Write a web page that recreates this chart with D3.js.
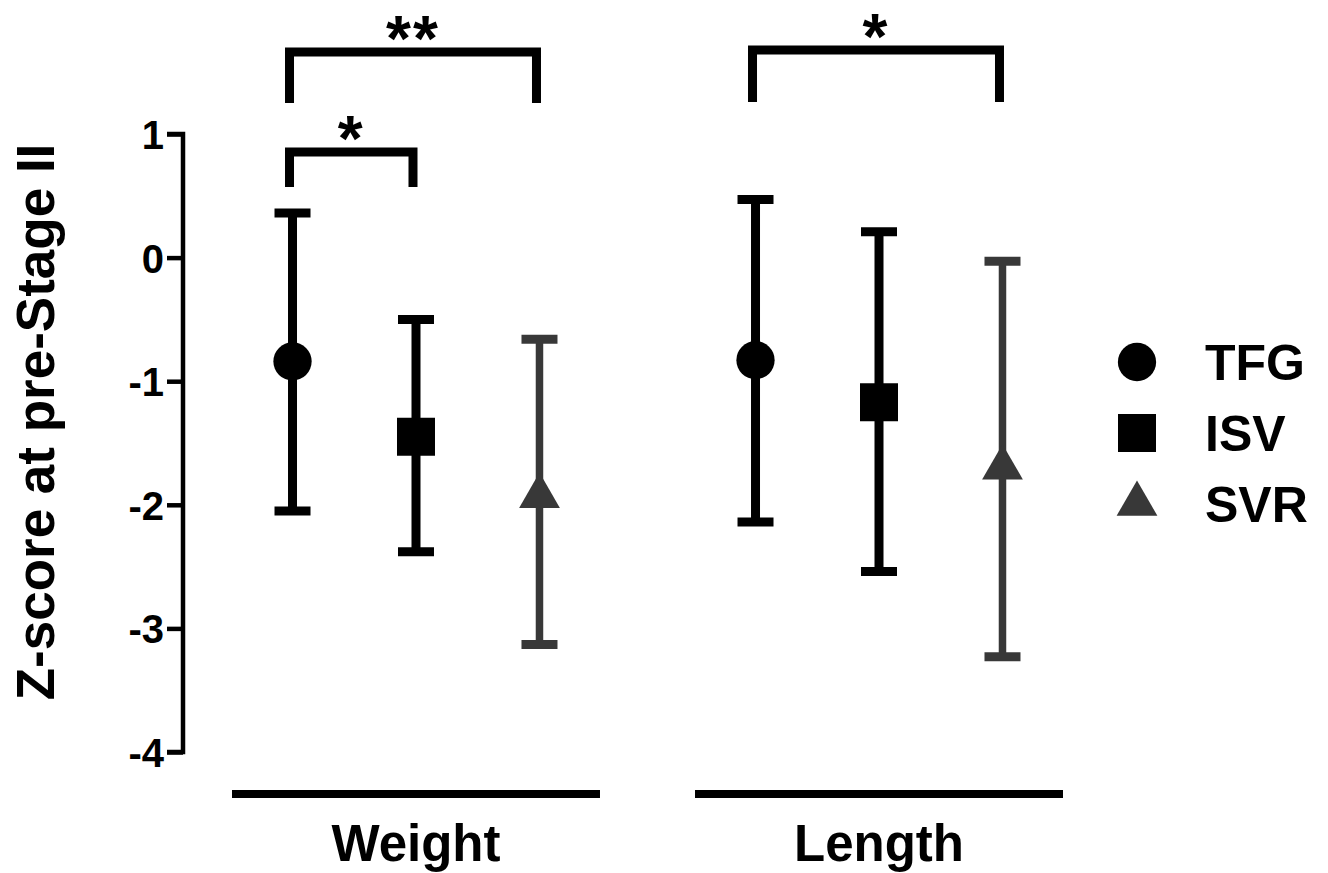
<!DOCTYPE html>
<html>
<head>
<meta charset="utf-8">
<script src="https://cdn.jsdelivr.net/npm/d3@7"></script>
<style>
  body { margin: 0; background: #fff; }
  svg text { font-family: "Liberation Sans", Arial, sans-serif; font-weight: bold; fill: #000; }
</style>
</head>
<body>
<svg id="chart" width="1328" height="873"></svg>
<script>
"use strict"
// measures and groups
var measures = ["Weight", "Length"];
var groups = ["TFG", "ISV", "SVR"];

// mean z-score, upper and lower error bar ends
var means = { Weight: [-0.84, -1.45, -1.93], Length: [-0.83, -1.17, -1.70] };
var uppers = { Weight: [0.36, -0.50, -0.66], Length: [0.47, 0.21, -0.03] };
var lowers = { Weight: [-2.05, -2.38, -3.13], Length: [-2.14, -2.54, -3.23] };

var yTicks = [1, 0, -1, -2, -3, -4];

// significance brackets: measure, from group, to group, label, bracket level
var sigs = [
  { m: "Weight", a: "TFG", b: "SVR", label: "**", top: 52, foot: 103 },
  { m: "Weight", a: "TFG", b: "ISV", label: "*", top: 152, foot: 187 },
  { m: "Length", a: "TFG", b: "SVR", label: "*", top: 50, foot: 102 }
];

var svg = d3.select("svg#chart");

var colors = d3.scaleOrdinal().domain(groups).range(["#000", "#000", "#383838"]);
var shapes = d3.scaleOrdinal().domain(groups).range([d3.symbolCircle, d3.symbolSquare, d3.symbolTriangle]);
var sizes = d3.scaleOrdinal().domain(groups).range([1150, 1444, 720]);

var y = d3.scaleLinear().domain([-4, 1]).range([752, 134]);

var x0 = d3.scaleBand().domain(measures).range([232, 1063]).paddingInner(0.2052).paddingOuter(0);
var x1 = d3.scalePoint().domain(groups).range([0, x0.bandwidth()]).padding(0.49);

function gx(m, g) { return x0(m) + x1(g); }

// y axis
var yAxis = svg.append("g")
    .attr("transform", "translate(183,0)")
    .call(d3.axisLeft(y).tickValues(yTicks).tickSize(16).tickPadding(3).tickFormat(d3.format("d")));
yAxis.select(".domain").attr("stroke", "#000").attr("stroke-width", 4.5).attr("d", "M-16," + y(1) + "H0V" + y(-4) + "H-16");
yAxis.selectAll(".tick line").attr("stroke", "#000").attr("stroke-width", 4.5);
yAxis.selectAll(".tick text")
    .style("font-size", "40px")
    .attr("dy", "0.36em")
    .text(function(d) { return d < 0 ? "-" + Math.abs(d) : d; });

svg.append("text")
    .attr("transform", "translate(54," + 422 + ") rotate(-90)")
    .attr("text-anchor", "middle")
    .style("font-size", "53px")
    .text("Z-score at pre-Stage II");

// category lines and labels
var cats = svg.append("g").selectAll("g").data(measures).enter().append("g");
cats.append("line")
    .attr("x1", function(d) { return x0(d); })
    .attr("x2", function(d) { return x0(d) + x0.bandwidth(); })
    .attr("y1", 794).attr("y2", 794)
    .attr("stroke", "#000").attr("stroke-width", 8);
cats.append("text")
    .attr("x", function(d) { return x0(d) + x0.bandwidth() / 2; })
    .attr("y", 861)
    .attr("text-anchor", "middle")
    .style("font-size", "51px")
    .text(function(d) { return d; });

// error bars and means
var rows = [];
measures.forEach(function(m) {
  groups.forEach(function(g, i) {
    rows.push({ m: m, g: g, mean: means[m][i], hi: uppers[m][i], lo: lowers[m][i] });
  });
});

var pts = svg.append("g").selectAll("g").data(rows).enter().append("g")
    .attr("transform", function(d) { return "translate(" + gx(d.m, d.g) + ",0)"; });

pts.append("line")
    .attr("y1", function(d) { return y(d.hi); })
    .attr("y2", function(d) { return y(d.lo); })
    .attr("stroke", function(d) { return colors(d.g); })
    .attr("stroke-width", function(d) { return d.g == "SVR" ? 7.5 : 9; });
pts.selectAll("line.cap").data(function(d) { return [{ v: d.hi, g: d.g }, { v: d.lo, g: d.g }]; })
  .enter().append("line")
    .attr("class", "cap")
    .attr("x1", -18).attr("x2", 18)
    .attr("y1", function(d) { return y(d.v); })
    .attr("y2", function(d) { return y(d.v); })
    .attr("stroke", function(d) { return colors(d.g); })
    .attr("stroke-width", 9);
pts.append("path")
    .attr("transform", function(d) { return "translate(0," + y(d.mean) + ")"; })
    .attr("d", function(d) { return d3.symbol().type(shapes(d.g)).size(sizes(d.g))(); })
    .attr("fill", function(d) { return colors(d.g); });

// significance brackets
var br = svg.append("g").selectAll("g").data(sigs).enter().append("g");
br.append("path")
    .attr("d", function(d) {
      var a = gx(d.m, d.a) - 3, b = gx(d.m, d.b) - 3;
      return "M" + a + "," + d.foot + "V" + d.top + "H" + b + "V" + d.foot;
    })
    .attr("fill", "none").attr("stroke", "#000").attr("stroke-width", 9).attr("stroke-linejoin", "miter");
br.append("text")
    .attr("x", function(d) { return (gx(d.m, d.a) + gx(d.m, d.b)) / 2 - 3; })
    .attr("y", function(d) { return d.top + 9; })
    .attr("text-anchor", "middle")
    .style("font-size", "64px")
    .style("letter-spacing", "2px")
    .text(function(d) { return d.label; });

// legend
var leg = svg.append("g").selectAll("g").data(groups).enter().append("g")
    .attr("transform", function(d, i) { return "translate(1137," + (362 + i * 71) + ")"; });
leg.append("path")
    .attr("d", function(d) { return d3.symbol().type(shapes(d)).size(sizes(d))(); })
    .attr("fill", function(d) { return colors(d); });
leg.append("text")
    .attr("x", 68)
    .attr("y", 18)
    .style("font-size", "50px")
    .text(function(d) { return d; });
</script>
</body>
</html>
